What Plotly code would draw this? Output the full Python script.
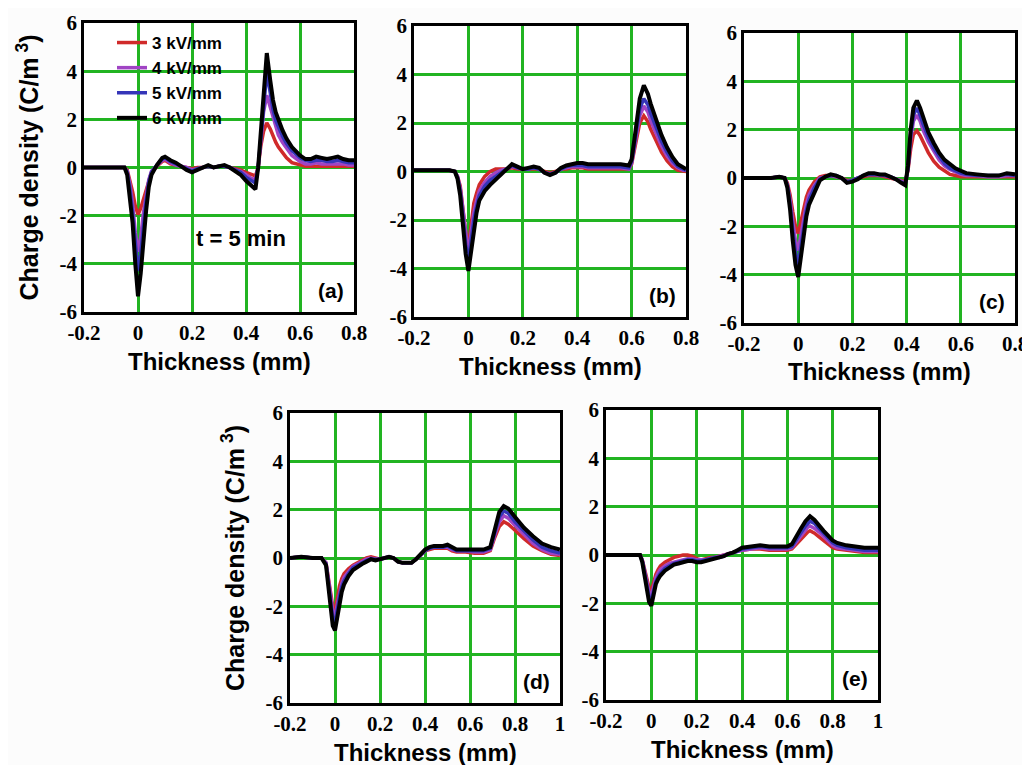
import plotly.graph_objects as go

# ---------------- data ----------------
series_names = ["3 kV/mm", "4 kV/mm", "5 kV/mm", "6 kV/mm"]
series_colors = ["#d02a2a", "#a044c4", "#3535b8", "#000000"]

xa = [-0.2, -0.1, -0.05, -0.04, -0.03, -0.02, -0.01, 0.0, 0.01, 0.02, 0.03, 0.04, 0.05, 0.07, 0.09, 0.1,
      0.12, 0.14, 0.16, 0.18, 0.2, 0.22, 0.24, 0.26, 0.28, 0.3, 0.32, 0.34, 0.36, 0.38, 0.4, 0.42, 0.435,
      0.445, 0.455, 0.465, 0.477, 0.49, 0.5, 0.51, 0.52, 0.535, 0.55, 0.57, 0.6, 0.62, 0.64, 0.66, 0.68,
      0.7, 0.72, 0.74, 0.76, 0.78, 0.8]
a_3kv = [0.0, 0.0, 0.0, -0.1, -0.5, -1.0, -1.6, -1.95, -1.7, -1.3, -0.9, -0.5, -0.2, 0.05, 0.25, 0.3, 0.15,
         0.1, 0.05, 0.0, -0.05, 0.0, 0.0, 0.05, 0.0, 0.05, 0.05, 0.0, -0.05, -0.1, -0.2, -0.3, -0.35, 0.0,
         0.9, 1.5, 1.85, 1.6, 1.3, 1.05, 0.85, 0.6, 0.4, 0.2, 0.1, 0.05, 0.05, 0.05, 0.05, 0.05, 0.05,
         0.05, 0.05, 0.05, 0.05]
a_4kv = [0.0, 0.0, 0.0, -0.15, -0.7, -1.5, -2.7, -3.5, -2.9, -1.9, -1.1, -0.5, -0.15, 0.1, 0.3, 0.35, 0.2,
         0.1, 0.05, 0.0, -0.1, -0.05, 0.0, 0.05, 0.0, 0.05, 0.05, 0.0, -0.1, -0.15, -0.3, -0.45, -0.5, 0.0,
         1.1, 2.3, 3.0, 2.5, 2.0, 1.65, 1.35, 1.05, 0.8, 0.5, 0.25, 0.15, 0.15, 0.2, 0.15, 0.15, 0.15, 0.15,
         0.15, 0.1, 0.1]
a_5kv = [0.0, 0.0, 0.0, -0.2, -0.9, -1.9, -3.3, -4.3, -3.6, -2.4, -1.4, -0.6, -0.2, 0.1, 0.35, 0.4, 0.25,
         0.15, 0.05, -0.05, -0.15, -0.05, 0.0, 0.05, 0.0, 0.05, 0.05, 0.0, -0.1, -0.2, -0.4, -0.55, -0.65,
         0.0, 1.3, 2.8, 3.95, 3.1, 2.4, 1.95, 1.65, 1.3, 1.0, 0.7, 0.4, 0.3, 0.25, 0.3, 0.3, 0.25, 0.25,
         0.3, 0.25, 0.2, 0.2]
a_6kv = [0.0, 0.0, 0.0, -0.3, -1.2, -2.3, -4.0, -5.35, -4.4, -3.0, -1.8, -0.8, -0.3, 0.1, 0.4, 0.45, 0.3,
         0.2, 0.05, -0.1, -0.2, -0.1, 0.0, 0.1, 0.0, 0.05, 0.1, 0.0, -0.15, -0.3, -0.55, -0.75, -0.9, 0.0,
         1.5, 3.3, 4.75, 3.6, 2.8, 2.3, 1.95, 1.55, 1.2, 0.85, 0.5, 0.35, 0.35, 0.45, 0.4, 0.35, 0.4, 0.45,
         0.35, 0.3, 0.3]

xb = [-0.2, -0.15, -0.1, -0.07, -0.05, -0.04, -0.03, -0.02, -0.01, 0.0, 0.01, 0.02, 0.03, 0.04, 0.06, 0.08,
      0.1, 0.12, 0.14, 0.16, 0.18, 0.2, 0.22, 0.24, 0.26, 0.28, 0.3, 0.32, 0.34, 0.36, 0.38, 0.4, 0.42,
      0.44, 0.48, 0.52, 0.56, 0.59, 0.6, 0.61, 0.62, 0.63, 0.645, 0.66, 0.67, 0.69, 0.71, 0.73, 0.75,
      0.77, 0.79, 0.8]
b_3kv = [0.05, 0.05, 0.05, 0.05, 0.0, -0.2, -0.6, -1.5, -2.5, -3.1, -2.1, -1.3, -0.9, -0.55, -0.2, 0.0,
         0.1, 0.1, 0.1, 0.15, 0.1, 0.1, 0.1, 0.1, 0.1, 0.0, -0.05, 0.0, 0.1, 0.1, 0.15, 0.15, 0.15, 0.1,
         0.1, 0.1, 0.1, 0.1, 0.3, 0.9, 1.5, 2.0, 2.3, 2.05, 1.75, 1.25, 0.8, 0.45, 0.2, 0.05, 0.0, 0.0]
b_4kv = [0.05, 0.05, 0.05, 0.05, 0.0, -0.2, -0.7, -1.7, -2.7, -3.4, -2.5, -1.7, -1.2, -0.8, -0.45, -0.2,
         -0.05, 0.05, 0.1, 0.2, 0.15, 0.1, 0.1, 0.15, 0.1, -0.05, -0.1, -0.05, 0.1, 0.15, 0.2, 0.2, 0.2,
         0.15, 0.15, 0.15, 0.15, 0.1, 0.35, 1.0, 1.7, 2.3, 2.7, 2.45, 2.1, 1.55, 1.05, 0.65, 0.35, 0.15,
         0.05, 0.05]
b_5kv = [0.05, 0.05, 0.05, 0.05, 0.0, -0.25, -0.8, -1.9, -3.0, -3.7, -2.8, -2.0, -1.45, -1.0, -0.6, -0.35,
         -0.2, -0.05, 0.1, 0.25, 0.15, 0.1, 0.1, 0.15, 0.1, -0.05, -0.1, -0.05, 0.1, 0.2, 0.25, 0.25, 0.25,
         0.2, 0.2, 0.2, 0.2, 0.15, 0.4, 1.1, 1.9, 2.6, 3.0, 2.75, 2.4, 1.8, 1.25, 0.8, 0.45, 0.2, 0.1, 0.05]
b_6kv = [0.05, 0.05, 0.05, 0.05, 0.0, -0.3, -1.0, -2.2, -3.4, -4.1, -3.2, -2.3, -1.7, -1.2, -0.8, -0.55,
         -0.35, -0.15, 0.1, 0.3, 0.2, 0.1, 0.15, 0.2, 0.15, -0.05, -0.15, -0.05, 0.15, 0.25, 0.3, 0.35,
         0.35, 0.3, 0.3, 0.3, 0.3, 0.25, 0.5, 1.3, 2.2, 3.0, 3.55, 3.2, 2.8, 2.1, 1.5, 1.0, 0.6, 0.3, 0.15,
         0.1]

xc = [-0.2, -0.15, -0.1, -0.07, -0.05, -0.04, -0.03, -0.02, -0.01, 0.0, 0.01, 0.02, 0.03, 0.04, 0.06, 0.08,
      0.1, 0.12, 0.14, 0.16, 0.18, 0.2, 0.22, 0.24, 0.26, 0.28, 0.3, 0.32, 0.34, 0.36, 0.38, 0.395, 0.405,
      0.415, 0.425, 0.438, 0.45, 0.46, 0.48, 0.5, 0.52, 0.54, 0.56, 0.58, 0.6, 0.62, 0.66, 0.7, 0.74,
      0.77, 0.8]
c_3kv = [0.0, 0.0, 0.0, 0.05, 0.0, -0.2, -0.7, -1.4, -2.0, -2.3, -1.8, -1.2, -0.8, -0.5, -0.15, 0.05, 0.1,
         0.1, 0.05, 0.0, -0.1, -0.1, 0.0, 0.05, 0.1, 0.1, 0.1, 0.05, 0.0, -0.05, -0.1, -0.15, 0.3, 1.2,
         1.8, 1.95, 1.75, 1.5, 1.05, 0.7, 0.45, 0.3, 0.15, 0.1, 0.05, 0.05, 0.05, 0.05, 0.05, 0.05, 0.05]
c_4kv = [0.0, 0.0, 0.0, 0.05, 0.0, -0.3, -0.9, -1.8, -2.6, -3.0, -2.3, -1.6, -1.1, -0.7, -0.3, 0.0, 0.05,
         0.1, 0.05, 0.0, -0.15, -0.1, 0.0, 0.1, 0.15, 0.15, 0.1, 0.1, 0.05, -0.05, -0.15, -0.2, 0.35, 1.6,
         2.35, 2.6, 2.35, 2.0, 1.5, 1.1, 0.75, 0.5, 0.35, 0.25, 0.15, 0.1, 0.1, 0.05, 0.05, 0.1, 0.1]
c_5kv = [0.0, 0.0, 0.0, 0.05, 0.0, -0.3, -1.1, -2.2, -3.1, -3.6, -2.8, -1.9, -1.35, -0.9, -0.4, -0.05,
         0.05, 0.1, 0.1, 0.0, -0.15, -0.1, 0.0, 0.1, 0.15, 0.15, 0.15, 0.1, 0.05, -0.05, -0.15, -0.25, 0.4,
         1.8, 2.6, 2.9, 2.6, 2.25, 1.7, 1.25, 0.9, 0.6, 0.4, 0.3, 0.2, 0.15, 0.1, 0.1, 0.1, 0.15, 0.1]
c_6kv = [0.0, 0.0, 0.0, 0.05, 0.0, -0.4, -1.3, -2.6, -3.6, -4.1, -3.2, -2.2, -1.6, -1.1, -0.55, -0.1,
         0.05, 0.15, 0.1, 0.0, -0.2, -0.15, -0.05, 0.1, 0.2, 0.2, 0.15, 0.15, 0.05, -0.05, -0.2, -0.3, 0.5,
         2.0, 2.9, 3.2, 2.9, 2.55, 1.9, 1.45, 1.05, 0.75, 0.55, 0.4, 0.3, 0.2, 0.15, 0.1, 0.1, 0.2, 0.15]

xd = [-0.2, -0.15, -0.1, -0.06, -0.04, -0.03, -0.02, -0.01, 0.0, 0.01, 0.02, 0.03, 0.04, 0.06, 0.08, 0.1,
      0.12, 0.14, 0.16, 0.18, 0.2, 0.22, 0.24, 0.26, 0.28, 0.3, 0.32, 0.34, 0.36, 0.38, 0.4, 0.42, 0.44,
      0.46, 0.48, 0.5, 0.52, 0.54, 0.58, 0.62, 0.66, 0.69, 0.71, 0.73, 0.75, 0.77, 0.8, 0.84, 0.88, 0.92,
      0.96, 1.0]
d_3kv = [0.0, 0.05, 0.0, 0.0, -0.2, -0.8, -1.5, -2.0, -2.2, -1.6, -1.15, -0.85, -0.65, -0.45, -0.3, -0.2,
         -0.1, 0.0, 0.05, 0.0, -0.05, 0.0, 0.05, 0.0, -0.15, -0.2, -0.2, -0.2, -0.05, 0.1, 0.3, 0.35, 0.4,
         0.4, 0.4, 0.4, 0.3, 0.25, 0.25, 0.2, 0.2, 0.3, 0.85, 1.3, 1.5, 1.4, 1.15, 0.8, 0.5, 0.3, 0.15, 0.1]
d_4kv = [0.0, 0.05, 0.0, 0.0, -0.2, -0.9, -1.7, -2.2, -2.4, -1.9, -1.4, -1.05, -0.8, -0.55, -0.35, -0.25,
         -0.15, -0.05, 0.0, -0.05, -0.05, 0.0, 0.05, 0.0, -0.15, -0.2, -0.2, -0.2, -0.05, 0.1, 0.3, 0.4,
         0.45, 0.45, 0.45, 0.45, 0.35, 0.3, 0.3, 0.25, 0.25, 0.35, 0.95, 1.5, 1.75, 1.65, 1.35, 0.95, 0.6,
         0.35, 0.2, 0.15]
d_5kv = [0.0, 0.05, 0.0, 0.0, -0.25, -1.0, -1.9, -2.5, -2.7, -2.1, -1.6, -1.2, -0.95, -0.65, -0.4, -0.3,
         -0.2, -0.1, -0.05, -0.05, -0.05, 0.0, 0.05, 0.0, -0.15, -0.2, -0.2, -0.2, -0.05, 0.15, 0.3, 0.4,
         0.45, 0.45, 0.45, 0.5, 0.4, 0.3, 0.3, 0.3, 0.3, 0.4, 1.05, 1.7, 1.95, 1.85, 1.5, 1.1, 0.75, 0.45,
         0.3, 0.2]
d_6kv = [0.0, 0.05, 0.0, 0.0, -0.3, -1.2, -2.2, -2.8, -3.0, -2.4, -1.8, -1.4, -1.1, -0.75, -0.5, -0.35,
         -0.25, -0.15, -0.05, -0.1, -0.05, 0.0, 0.05, 0.0, -0.15, -0.2, -0.2, -0.2, -0.05, 0.15, 0.35, 0.45,
         0.5, 0.5, 0.5, 0.55, 0.45, 0.35, 0.35, 0.35, 0.35, 0.45, 1.2, 1.9, 2.15, 2.05, 1.7, 1.25, 0.9, 0.6,
         0.45, 0.35]

xe = [-0.2, -0.15, -0.1, -0.05, -0.04, -0.03, -0.02, -0.01, 0.0, 0.01, 0.02, 0.03, 0.04, 0.06, 0.08, 0.1,
      0.12, 0.14, 0.16, 0.18, 0.2, 0.22, 0.24, 0.26, 0.28, 0.3, 0.32, 0.34, 0.36, 0.38, 0.4, 0.44, 0.48,
      0.52, 0.56, 0.6, 0.62, 0.64, 0.66, 0.68, 0.69, 0.7, 0.72, 0.74, 0.76, 0.78, 0.8, 0.82, 0.86, 0.9,
      0.94, 1.0]
e_3kv = [0.0, 0.0, 0.0, 0.0, -0.2, -0.6, -1.0, -1.35, -1.5, -1.1, -0.8, -0.6, -0.45, -0.3, -0.2, -0.1,
         -0.05, 0.0, 0.0, -0.05, -0.15, -0.2, -0.15, -0.1, -0.1, -0.05, 0.0, 0.05, 0.1, 0.15, 0.2, 0.25,
         0.25, 0.2, 0.2, 0.2, 0.25, 0.45, 0.7, 0.9, 0.95, 1.0, 0.9, 0.75, 0.6, 0.45, 0.3, 0.25, 0.2, 0.15,
         0.1, 0.1]
e_4kv = [0.0, 0.0, 0.0, 0.0, -0.2, -0.7, -1.2, -1.55, -1.7, -1.3, -0.95, -0.75, -0.6, -0.45, -0.35, -0.3,
         -0.25, -0.2, -0.15, -0.15, -0.2, -0.2, -0.2, -0.15, -0.1, -0.05, 0.0, 0.05, 0.1, 0.15, 0.2, 0.25,
         0.3, 0.25, 0.25, 0.25, 0.3, 0.55, 0.8, 1.05, 1.15, 1.2, 1.1, 0.95, 0.75, 0.55, 0.4, 0.3, 0.25,
         0.2, 0.15, 0.15]
e_5kv = [0.0, 0.0, 0.0, 0.0, -0.25, -0.8, -1.3, -1.75, -1.9, -1.45, -1.1, -0.9, -0.75, -0.55, -0.45,
         -0.35, -0.3, -0.25, -0.2, -0.2, -0.25, -0.25, -0.2, -0.15, -0.1, -0.1, -0.05, 0.05, 0.1, 0.15,
         0.25, 0.3, 0.35, 0.3, 0.3, 0.3, 0.35, 0.65, 0.95, 1.2, 1.3, 1.4, 1.3, 1.1, 0.9, 0.7, 0.5, 0.4,
         0.3, 0.25, 0.2, 0.2]
e_6kv = [0.0, 0.0, 0.0, 0.0, -0.3, -0.9, -1.5, -1.95, -2.1, -1.6, -1.2, -1.0, -0.85, -0.65, -0.5, -0.4,
         -0.35, -0.3, -0.25, -0.25, -0.3, -0.3, -0.25, -0.2, -0.15, -0.1, -0.05, 0.05, 0.1, 0.2, 0.3, 0.35,
         0.4, 0.35, 0.35, 0.35, 0.45, 0.8, 1.1, 1.4, 1.5, 1.6, 1.45, 1.2, 1.0, 0.8, 0.6, 0.5, 0.4, 0.35,
         0.3, 0.3]

x_ticks_short = [-0.2, 0, 0.2, 0.4, 0.6, 0.8]
x_ticktext_short = ["-0.2", "0", "0.2", "0.4", "0.6", "0.8"]
x_ticks_long = [-0.2, 0, 0.2, 0.4, 0.6, 0.8, 1.0]
x_ticktext_long = ["-0.2", "0", "0.2", "0.4", "0.6", "0.8", "1"]
y_ticks = [-6, -4, -2, 0, 2, 4, 6]
y_ticktext = ["-6", "-4", "-2", "0", "2", "4", "6"]

panel_labels = ["(a)", "(b)", "(c)", "(d)", "(e)"]
x_title = "Thickness (mm)"
y_title = "Charge density (C/m<sup> 3</sup>)"

panels = [
    (xa, [a_3kv, a_4kv, a_5kv, a_6kv], "short"),
    (xb, [b_3kv, b_4kv, b_5kv, b_6kv], "short"),
    (xc, [c_3kv, c_4kv, c_5kv, c_6kv], "short"),
    (xd, [d_3kv, d_4kv, d_5kv, d_6kv], "long"),
    (xe, [e_3kv, e_4kv, e_5kv, e_6kv], "long"),
]

# ---------------- layout geometry ----------------
# The page body has an 8px margin, so the figure is drawn at (8, 8) in the window.
OFF = 8
W, H = 1030 - OFF, 765 - OFF
boxes = [  # left, right, top, bottom in window pixels
    (84, 354, 23, 312),
    (414, 686, 26, 317),
    (744, 1015, 33, 323),
    (290, 560, 413, 703),
    (606, 878, 410, 700),
]


def px(p):
    return (p - OFF) / W


def py(p):
    return 1 - (p - OFF) / H


GRID = "#22b422"
SANS = "Liberation Sans, Arial, sans-serif"
SERIF = "Liberation Serif, Times New Roman, serif"

fig = go.Figure()
layout = dict(
    width=W, height=H, autosize=False,
    margin=dict(l=0, r=0, t=0, b=0),
    paper_bgcolor="#fcfcfc", plot_bgcolor="#ffffff",
    showlegend=True,
    legend=dict(x=px(112), y=py(25), xanchor="left", yanchor="top",
                bgcolor="rgba(0,0,0,0)", borderwidth=0, tracegroupgap=0,
                font=dict(family=SANS, size=17, color="black", weight="bold"),
                itemwidth=30),
)
annotations = []

for i, ((xs, ys_list, kind), (l, r, t, b)) in enumerate(zip(panels, boxes)):
    n = "" if i == 0 else str(i + 1)
    xref, yref = "x" + n, "y" + n
    for name, color, ys in zip(series_names, series_colors, ys_list):
        fig.add_trace(go.Scatter(
            x=xs, y=ys, mode="lines", name=name,
            line=dict(color=color, width=3.5 if color != "#000000" else 4),
            xaxis=xref, yaxis=yref,
            showlegend=(i == 0), legendgroup=name,
        ))
    if kind == "short":
        tv, tt, rng = x_ticks_short, x_ticktext_short, [-0.2, 0.8]
    else:
        tv, tt, rng = x_ticks_long, x_ticktext_long, [-0.2, 1.0]
    common = dict(showgrid=True, gridcolor=GRID, gridwidth=2.5, zeroline=False,
                  showline=True, linecolor="black", linewidth=2.5, mirror=True,
                  ticks="", automargin=False,
                  tickfont=dict(family=SERIF, size=21, color="black", weight="bold"))
    layout["xaxis" + n] = dict(common, domain=[px(l), px(r)], range=rng,
                               tickvals=tv, ticktext=tt, anchor=yref)
    layout["yaxis" + n] = dict(common, domain=[py(b), py(t)], range=[-6, 6],
                               tickvals=y_ticks, ticktext=y_ticktext, anchor=xref)
    # x-axis title
    annotations.append(dict(text=x_title, xref="paper", yref="paper",
                            x=px((l + r) / 2), y=py(b + 49),
                            xanchor="center", yanchor="middle", showarrow=False,
                            font=dict(family=SANS, size=24, color="black", weight="bold")))
    # panel label
    annotations.append(dict(text=panel_labels[i], xref=xref + " domain", yref=yref + " domain",
                            x=0.97, y=0.075, xanchor="right", yanchor="middle", showarrow=False,
                            font=dict(family=SANS, size=21, color="black", weight="bold")))

# y-axis titles for (a) and (d)
for (l, r, t, b) in (boxes[0], boxes[3]):
    annotations.append(dict(text=y_title, xref="paper", yref="paper",
                            x=px(l - 57), y=py((t + b) / 2), textangle=-90,
                            xanchor="center", yanchor="middle", showarrow=False,
                            font=dict(family=SANS, size=25, color="black", weight="bold")))

annotations.append(dict(text="t = 5 min", xref="x domain", yref="y domain",
                        x=0.58, y=0.256, xanchor="center", yanchor="middle", showarrow=False,
                        font=dict(family=SANS, size=22, color="black", weight="bold")))

layout["annotations"] = annotations
fig.update_layout(**layout)
fig.write_html("out.html")
